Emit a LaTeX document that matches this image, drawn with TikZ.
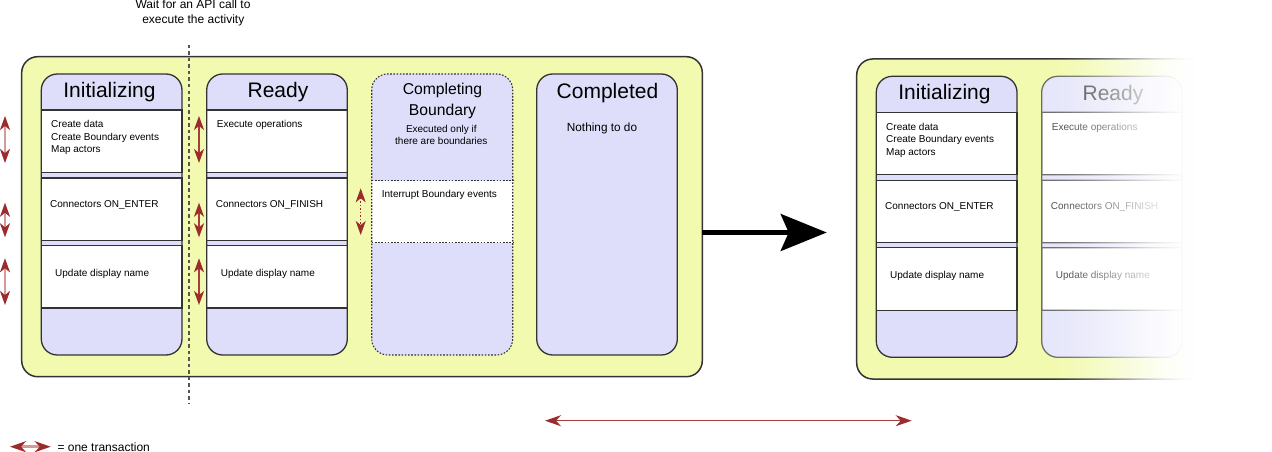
\documentclass[tikz,border=0pt]{standalone}
\usepackage{fontspec}
\setmainfont{Liberation Sans}
\usetikzlibrary{arrows.meta}

\definecolor{panefill}{HTML}{F2FAB0}
\definecolor{lav}{HTML}{DEDEFA}
\definecolor{edge}{HTML}{333333}
\definecolor{tipred}{HTML}{9C2B2B}
\definecolor{shaftpink}{HTML}{D49A9A}
\definecolor{shaftred}{HTML}{A63C3C}
\definecolor{waitgray}{HTML}{555555}

\newcommand\fsz[1]{\fontsize{#1}{#1}\selectfont}

\tikzset{
  redhead/.tip={Stealth[length=14pt,width=10pt,inset=4pt,color=tipred]},
  widehead/.tip={Stealth[length=16pt,width=11pt,inset=5pt,color=tipred]},
  bighead/.tip={Stealth[length=46pt,width=37pt,inset=8pt]},
  pane/.style={fill=panefill, draw=edge, line width=1.5pt, rounded corners=16pt},
  column/.style={fill=lav, rounded corners=16pt},
  colrim/.style={draw=edge, line width=1.3pt, rounded corners=16pt},
  dotrim/.style={draw=edge, line width=1.1pt, dash pattern=on 1.6pt off 1.6pt},
  row/.style={fill=white, draw=edge, line width=1.2pt},
  title/.style={anchor=base, inner sep=0pt, font=\fsz{21}},
  body/.style={anchor=base west, inner sep=0pt, font=\fsz{10}},
  note/.style={anchor=base, inner sep=0pt, font=\fsz{10}},
  txn/.style={draw=shaftpink, line width=2pt, arrows={redhead-redhead}},
  txnready/.style={draw=shaftred, line width=1.6pt, arrows={redhead-redhead}},
  txnmaybe/.style={draw=tipred, line width=1.3pt, dash pattern=on 1.5pt off 2pt, arrows={redhead-redhead}},
  waitline/.style={draw=waitgray, line width=1.3pt, dash pattern=on 3.5pt off 3pt},
}

% the Initializing and Ready states; #1 is a prefix for node names,
% #2 holds extra options for the Ready state
\newcommand\twostates[2]{%
  % Initializing
  \path[column] (41.3,74) rectangle (182,355);
  \draw[row] (41.3,110) rectangle (182,172.5);
  \draw[row] (41.3,178) rectangle (182,240.5);
  \draw[row] (41.3,245.5) rectangle (182,308);
  \path[colrim] (41.3,74) rectangle (182,355);
  \node[title] (#1-init) at (109.5,97) {Initializing};
  \node[body] (#1-init-a) at (51,128) {Create data};
  \node[body] (#1-init-b) at (51,140.4) {Create Boundary events};
  \node[body] (#1-init-c) at (51,152.8) {Map actors};
  \node[body] (#1-init-d) at (50,207.3) {Connectors ON\_ENTER};
  \node[body] (#1-init-e) at (55,276) {Update display name};
  % Ready
  \fill[white, rounded corners=16pt] (206.7,74) rectangle (347.3,355);
  \begin{scope}[#2]
    \path[column] (206.7,74) rectangle (347.3,355);
    \draw[row] (206.7,110) rectangle (347.3,172.5);
    \draw[row] (206.7,178) rectangle (347.3,240.5);
    \draw[row] (206.7,245.5) rectangle (347.3,308);
    \path[colrim] (206.7,74) rectangle (347.3,355);
    \node[title] (#1-ready) at (278,98) {Ready};
    \node[body] (#1-ready-a) at (216.7,128) {Execute operations};
    \node[body] (#1-ready-b) at (215.7,207.3) {Connectors ON\_FINISH};
    \node[body] (#1-ready-c) at (220.7,276) {Update display name};
  \end{scope}
}

\begin{document}
\begin{tikzpicture}[x=1pt, y=-1pt]
  \useasboundingbox[fill=white] (0,0) rectangle (1272,452);

  % ---- activity lifecycle ----
  \path[pane] (21.7,56.7) rectangle (702.3,376.7);
  \twostates{l}{}

  % Completing Boundary
  \path[column] (371.7,74) rectangle (512.7,355);
  \fill[white] (371.7,180.7) rectangle (512.7,242.7);
  \path[dotrim] (371.7,180.7) -- (512.7,180.7);
  \path[dotrim] (371.7,242.7) -- (512.7,242.7);
  \path[dotrim, rounded corners=16pt] (371.7,74) rectangle (512.7,355);
  \node[anchor=base, inner sep=0pt, font=\fsz{15.7}] (cb1) at (442.5,95) {Completing};
  \node[anchor=base, inner sep=0pt, font=\fsz{15.7}] (cb2) at (442.5,115) {Boundary};
  \node[note] (cb-n1) at (441.3,132.7) {Executed only if};
  \node[note] (cb-n2) at (441.3,144.3) {there are boundaries};
  \node[body] (cb-a) at (381.7,197.7) {Interrupt Boundary events};

  % Completed
  \path[column] (536.7,74) rectangle (677.3,355);
  \path[colrim] (536.7,74) rectangle (677.3,355);
  \node[title] (done) at (607.5,98.3) {Completed};
  \node[anchor=base west, inner sep=0pt, font=\fsz{11.8}] (done-a) at (566.7,131.7) {Nothing to do};

  % waiting point
  \node[anchor=base, inner sep=0pt, font=\fsz{12}] (wait1) at (193,9) {Wait for an API call to};
  \node[anchor=base, inner sep=0pt, font=\fsz{12}] (wait2) at (193.3,24) {execute the activity};
  \coordinate (wait-top) at (189,45);
  \coordinate (wait-bot) at (189,404);
  \path[waitline] (wait-top) -- (wait-bot);

  % transactions
  \coordinate (a1s) at (5,116);   \coordinate (a1e) at (5,163);
  \coordinate (a2s) at (5,202.7); \coordinate (a2e) at (5,237.3);
  \coordinate (a3s) at (5,258.3); \coordinate (a3e) at (5,305);
  \draw[txn] (a1s) -- (a1e);
  \draw[txn] (a2s) -- (a2e);
  \draw[txn] (a3s) -- (a3e);
  \coordinate (b1s) at (199,116);   \coordinate (b1e) at (199,163);
  \coordinate (b2s) at (199,202.7); \coordinate (b2e) at (199,237.3);
  \coordinate (b3s) at (199,258.3); \coordinate (b3e) at (199,305);
  \draw[txnready] (b1s) -- (b1e);
  \draw[txnready] (b2s) -- (b2e);
  \draw[txnready] (b3s) -- (b3e);
  \coordinate (c1s) at (360.7,188.3); \coordinate (c1e) at (360.7,235);
  \draw[txnmaybe] (c1s) -- (c1e);

  % step to the next state
  \coordinate (go-s) at (702.3,232.5);
  \coordinate (go-e) at (826.7,232.5);
  \draw[line width=4.2pt, arrows={-bighead}] (go-s) -- (go-e);

  % ---- next activity, washed out towards the right ----
  \begin{scope}[shift={(835,2.3)}]
    \path[pane] (21.7,56.7) rectangle (427,376.7);
    \twostates{r}{transparency group, opacity=0.7}
  \end{scope}
  % white veil in one-point strips, eased from clear to solid
  \foreach \i in {0,...,159} {
    \pgfmathsetmacro\veil{3*(\i/160)^2 - 2*(\i/160)^3}
    \fill[white, fill opacity=\veil] ({1040+\i},40) rectangle ({1041+\i},400);
  }
  \fill[white] (1200,40) rectangle (1272,400);

  % span of one transaction
  \coordinate (span-s) at (545,420.7);
  \coordinate (span-e) at (911.7,420.7);
  \draw[draw=shaftred, line width=1.5pt, arrows={widehead-widehead}] (span-s) -- (span-e);

  % legend
  \coordinate (key-s) at (10,446.7);
  \coordinate (key-e) at (50.7,446.7);
  \draw[draw=shaftpink, line width=2.5pt, arrows={widehead-widehead}] (key-s) -- (key-e);
  \node[anchor=base west, inner sep=0pt, font=\fsz{12}] (key) at (57.3,451) {= one transaction};
\end{tikzpicture}
\end{document}
